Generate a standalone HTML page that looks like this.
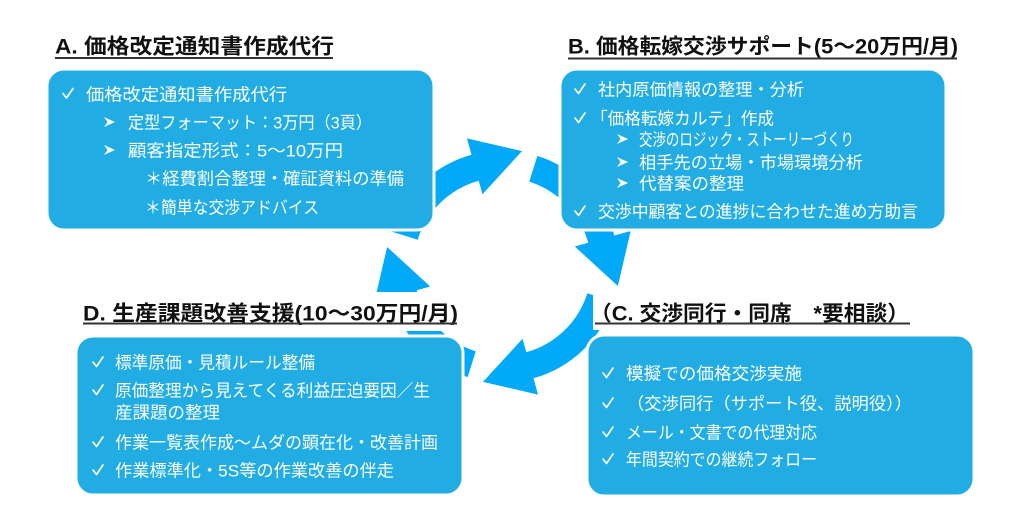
<!DOCTYPE html>
<html>
<head>
<meta charset="utf-8">
<style>
  html, body { margin: 0; padding: 0; background: #ffffff; }
  body { width: 1024px; height: 530px; overflow: hidden; }
  svg { display: block; }
  .t { font-family: "Liberation Sans", "Noto Sans CJK JP", sans-serif; fill: #ffffff; font-size: 17px; }
  .h { font-family: "Liberation Sans", "Noto Sans CJK JP", sans-serif; fill: #111111; font-size: 21px; font-weight: bold; }
</style>
</head>
<body>
<svg width="1024" height="530" viewBox="0 0 1024 530" xmlns="http://www.w3.org/2000/svg">
  <rect x="0" y="0" width="1024" height="530" fill="#ffffff"/>

  <!-- circular arrows -->
  <g fill="#02A9F9">
    <path id="arc" d="M391.87,231.62 A116,116 0 0 1 471.5,154.72 L466.96,138.34 L522.01,151.14 L482.46,194.23 L478.72,180.74 A89,89 0 0 0 417.62,239.74 Z"/>
    <path d="M391.87,231.62 A116,116 0 0 1 471.5,154.72 L466.96,138.34 L522.01,151.14 L482.46,194.23 L478.72,180.74 A89,89 0 0 0 417.62,239.74 Z" transform="rotate(90 502.5 266.5)"/>
    <path d="M391.87,231.62 A116,116 0 0 1 471.5,154.72 L466.96,138.34 L522.01,151.14 L482.46,194.23 L478.72,180.74 A89,89 0 0 0 417.62,239.74 Z" transform="rotate(180 502.5 266.5)"/>
    <path d="M391.87,231.62 A116,116 0 0 1 471.5,154.72 L466.96,138.34 L522.01,151.14 L482.46,194.23 L478.72,180.74 A89,89 0 0 0 417.62,239.74 Z" transform="rotate(270 502.5 266.5)"/>
  </g>

  <!-- title white backgrounds -->
  <rect x="72" y="292" width="392" height="39" fill="#ffffff"/>
  <rect x="593" y="293" width="322" height="37" fill="#ffffff"/>

  <!-- boxes -->
  <g fill="#21ADE3" stroke="#ffffff" stroke-width="3">
    <rect x="47" y="69" width="387" height="161" rx="17" ry="17"/>
    <rect x="560" y="69" width="386" height="161" rx="17" ry="17"/>
    <rect x="76" y="336" width="387" height="159" rx="17" ry="17"/>
    <rect x="587" y="335" width="387" height="161" rx="17" ry="17"/>
  </g>

  <!-- titles -->
  <text class="h" x="55" y="53.5" textLength="279" lengthAdjust="spacingAndGlyphs">A. 価格改定通知書作成代行</text>
  <rect x="55" y="57" width="278" height="2" fill="#333333"/>

  <text class="h" x="568" y="53.5" textLength="390" lengthAdjust="spacingAndGlyphs">B. 価格転嫁交渉サポート(5～20万円/月)</text>
  <rect x="568" y="57.5" width="389" height="2" fill="#333333"/>

  <text class="h" x="83" y="320.5" textLength="375" lengthAdjust="spacingAndGlyphs">D. 生産課題改善支援(10～30万円/月)</text>
  <rect x="83" y="322.5" width="374" height="2" fill="#333333"/>

  <text class="h" x="590" y="320.5" textLength="319" lengthAdjust="spacingAndGlyphs">（C. 交渉同行・同席　*要相談）</text>
  <rect x="595" y="322.5" width="315" height="2" fill="#333333"/>

  <!-- check marks -->
  <g fill="none" stroke="#ffffff" stroke-width="1.7" stroke-linecap="round" stroke-linejoin="round">
    <path d="M63,93.5 L66.5,98 L73,88.5"/>

    <path d="M575,89 L578.5,93.5 L585,84"/>
    <path d="M575,118 L578.5,122.5 L585,113"/>
    <path d="M575,211 L578.5,215.5 L585,206"/>

    <path d="M603,373 L606.5,377.5 L613,368"/>
    <path d="M603,403 L606.5,407.5 L613,398"/>
    <path d="M603,432 L606.5,436.5 L613,427"/>
    <path d="M603,459 L606.5,463.5 L613,454"/>

    <path d="M93,362 L96.5,366.5 L103,357"/>
    <path d="M93,390 L96.5,394.5 L103,385"/>
    <path d="M93,442 L96.5,446.5 L103,437"/>
    <path d="M93,470 L96.5,474.5 L103,465"/>
  </g>

  <!-- arrow bullets -->
  <g fill="#ffffff">
    <polygon points="104,117 115,122 104,127 107.5,122"/>
    <polygon points="104,145 115,150 104,155 107.5,150"/>
    <polygon points="617,134 628,139 617,144 620.5,139"/>
    <polygon points="617,157 628,162 617,167 620.5,162"/>
    <polygon points="617,178 628,183 617,188 620.5,183"/>
  </g>

  <!-- Box A text -->
  <text class="t" x="86" y="100.3" font-size="17.5" textLength="201" lengthAdjust="spacingAndGlyphs">価格改定通知書作成代行</text>
  <text class="t" x="128" y="128.3" font-size="17.5" textLength="244" lengthAdjust="spacingAndGlyphs">定型フォーマット：3万円（3頁）</text>
  <text class="t" x="128" y="156.3" font-size="17.5" textLength="215" lengthAdjust="spacingAndGlyphs">顧客指定形式：5～10万円</text>
  <text class="t" x="145" y="184.3" textLength="259" lengthAdjust="spacingAndGlyphs">＊経費割合整理・確証資料の準備</text>
  <text class="t" x="145" y="213.3" textLength="174" lengthAdjust="spacingAndGlyphs">＊簡単な交渉アドバイス</text>

  <!-- Box B text -->
  <text class="t" x="598" y="95.3" textLength="206" lengthAdjust="spacingAndGlyphs">社内原価情報の整理・分析</text>
  <text class="t" x="591" y="124.3" textLength="183" lengthAdjust="spacingAndGlyphs">「価格転嫁カルテ」作成</text>
  <text class="t" x="639" y="145.3" textLength="215" lengthAdjust="spacingAndGlyphs">交渉のロジック・ストーリーづくり</text>
  <text class="t" x="639" y="168.3" textLength="224" lengthAdjust="spacingAndGlyphs">相手先の立場・市場環境分析</text>
  <text class="t" x="639" y="189.3" textLength="105" lengthAdjust="spacingAndGlyphs">代替案の整理</text>
  <text class="t" x="598" y="217.3" textLength="320" lengthAdjust="spacingAndGlyphs">交渉中顧客との進捗に合わせた進め方助言</text>

  <!-- Box C text -->
  <text class="t" x="626" y="379.3" textLength="176" lengthAdjust="spacingAndGlyphs">模擬での価格交渉実施</text>
  <text class="t" x="627" y="409.3" textLength="285" lengthAdjust="spacingAndGlyphs">（交渉同行（サポート役、説明役））</text>
  <text class="t" x="626" y="438.3" textLength="191" lengthAdjust="spacingAndGlyphs">メール・文書での代理対応</text>
  <text class="t" x="626" y="465.3" textLength="191" lengthAdjust="spacingAndGlyphs">年間契約での継続フォロー</text>

  <!-- Box D text -->
  <text class="t" x="115" y="368.3" textLength="200" lengthAdjust="spacingAndGlyphs">標準原価・見積ルール整備</text>
  <text class="t" x="115" y="396.3" textLength="315" lengthAdjust="spacingAndGlyphs">原価整理から見えてくる利益圧迫要因／生</text>
  <text class="t" x="115" y="418.3" textLength="105" lengthAdjust="spacingAndGlyphs">産課題の整理</text>
  <text class="t" x="115" y="448.3" textLength="323" lengthAdjust="spacingAndGlyphs">作業一覧表作成～ムダの顕在化・改善計画</text>
  <text class="t" x="115" y="476.3" textLength="279" lengthAdjust="spacingAndGlyphs">作業標準化・5S等の作業改善の伴走</text>
</svg>
</body>
</html>
